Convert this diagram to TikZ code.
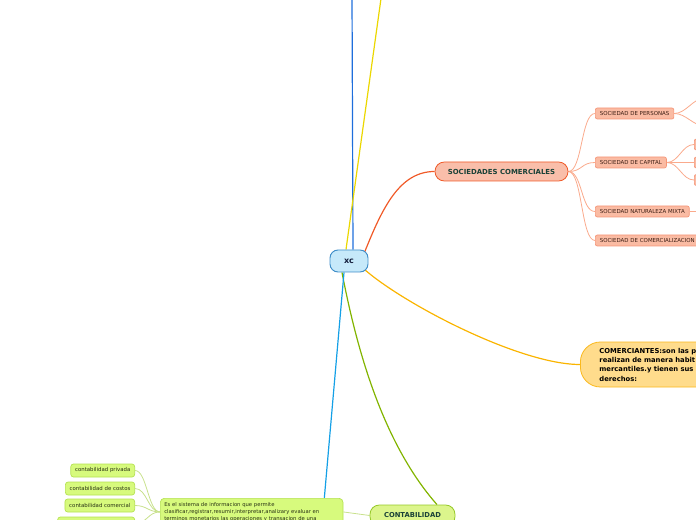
\documentclass[tikz,border=0pt]{standalone}
\usepackage{fontspec}
\setmainfont{DejaVu Sans}
\usetikzlibrary{backgrounds,calc}
\definecolor{xcfill}{RGB}{198,233,250}
\definecolor{xcdraw}{RGB}{60,140,200}
\definecolor{xctext}{RGB}{20,30,60}
\definecolor{blueline}{RGB}{30,110,220}
\definecolor{yelline}{RGB}{235,215,0}
\definecolor{redline}{RGB}{240,90,40}
\definecolor{socfill}{RGB}{249,190,170}
\definecolor{soctext}{RGB}{25,65,55}
\definecolor{subfill}{RGB}{250,187,163}
\definecolor{subdraw}{RGB}{245,150,120}
\definecolor{subline}{RGB}{250,170,140}
\definecolor{subtext}{RGB}{60,30,20}
\definecolor{comfill}{RGB}{255,220,140}
\definecolor{comdraw}{RGB}{250,185,30}
\definecolor{comline}{RGB}{250,180,0}
\definecolor{greenline}{RGB}{130,180,0}
\definecolor{contfill}{RGB}{220,245,140}
\definecolor{contdraw}{RGB}{150,200,40}
\definecolor{cyanline}{RGB}{20,160,230}
\definecolor{descfill}{RGB}{215,250,125}
\definecolor{descdraw}{RGB}{180,225,80}
\definecolor{leafline}{RGB}{200,225,140}
\definecolor{leaftext}{RGB}{40,50,20}
\newcommand{\fsz}[2]{\fontsize{#1}{#2}\selectfont}
\begin{document}
\begin{tikzpicture}[x=0.75pt,y=-0.75pt,
  rootbox/.style={draw=xcdraw, fill=xcfill, line width=0.7pt, rounded corners=6pt,
    minimum width=28.5pt, minimum height=16.5pt, inner sep=0pt,
    font=\fsz{6pt}{7pt}\bfseries, text=xctext},
  socbox/.style={draw=redline, fill=socfill, line width=0.6pt, rounded corners=7pt,
    minimum width=99.75pt, minimum height=14.25pt, inner sep=0pt,
    font=\fsz{5.2pt}{6pt}\bfseries, text=soctext},
  subbox/.style={draw=subdraw, fill=subfill, line width=0.5pt, rounded corners=1.5pt,
    minimum height=8.25pt, inner xsep=3.4pt, inner ysep=0pt,
    font=\fsz{4.1pt}{5pt}, text=subtext},
  combox/.style={draw=comdraw, fill=comfill, line width=0.6pt, rounded corners=15pt,
    minimum height=33.75pt, text width=150pt, inner xsep=14.25pt, inner ysep=0pt,
    align=left, font=\fsz{5.1pt}{7pt}\bfseries, text=black},
  contbox/.style={draw=contdraw, fill=contfill, line width=0.6pt, rounded corners=7pt,
    minimum width=63.75pt, minimum height=15.75pt, inner sep=0pt,
    font=\fsz{5.1pt}{6pt}\bfseries, text=soctext},
  descbox/.style={draw=descdraw, fill=descfill, line width=0.5pt, rounded corners=3pt,
    text width=131pt, inner xsep=3pt, inner ysep=3pt, align=left,
    font=\fsz{3.95pt}{5.3pt}, text=leaftext},
  leafbox/.style={draw=descdraw, fill=descfill, line width=0.5pt, rounded corners=2pt,
    minimum height=9.75pt, inner xsep=3.2pt, inner ysep=0pt,
    font=\fsz{4.05pt}{4.5pt}, text=leaftext},
  mainline/.style={line width=0.9pt},
  thinline/.style={line width=0.6pt}
]
\useasboundingbox (0,0) rectangle (696,520);
\clip (0,0) rectangle (696,520);

% nodes
\node[rootbox] (xc) at (349,261) {xc};
\node[socbox] (socc) at (501.5,171.5) {SOCIEDADES COMERCIALES};
\node[subbox, anchor=west] (sper) at (595,113.5) {SOCIEDAD DE PERSONAS};
\node[subbox, anchor=west] (scap) at (595,162.5) {SOCIEDAD DE CAPITAL};
\node[subbox, anchor=west] (smix) at (595,211.5) {SOCIEDAD NATURALEZA MIXTA};
\node[subbox, anchor=west, text width=110pt, align=left] (scom) at (595,240.5) {SOCIEDAD DE COMERCIALIZACION};
\node[subbox, anchor=west, minimum width=40pt] (cap1) at (694,144.5) {};
\node[subbox, anchor=west, minimum width=40pt] (cap2) at (694,162.5) {};
\node[subbox, anchor=west, minimum width=40pt] (cap3) at (694,180) {};
\node[combox, anchor=west] (comer) at (580,364.5) {COMERCIANTES:son las p\\realizan de manera habit\\mercantiles.y tienen sus\\derechos:};
\node[contbox] (cont) at (412.5,515.5) {CONTABILIDAD};
\node[descbox, anchor=north west] (desc) at (160,498) {Es el sistema de informacion que permite\\clasificar,registrar,resumir,interpretar,analizary evaluar en\\terminos monetarios las operaciones y transacion de una};
\node[leafbox, anchor=east] (l1) at (135,470.5) {contabilidad privada};
\node[leafbox, anchor=east] (l2) at (135,488.5) {contabilidad de costos};
\node[leafbox, anchor=east] (l3) at (135,505.5) {contabilidad comercial};
\node[leafbox, anchor=east, minimum width=57.75pt] (l4) at (135,523.5) {};

\coordinate (topblue) at (352,-5);
\coordinate (topyel) at (381.5,-5);
\coordinate (per1) at (705,98);
\coordinate (per2) at (705,126);
\coordinate (mixend) at (705,211.5);

\begin{scope}[on background layer]
  \draw[mainline, blueline] ($(xc.north)+(4,0)$) -- (topblue);
  \draw[mainline, yelline] ($(xc.north)+(-3,0)$) -- (topyel);
  \draw[mainline, redline] ($(xc.north east)+(-4,3)$) .. controls +(18,-45) and +(-35,0) .. (socc.west);
  \draw[mainline, comline] ($(xc.south east)+(-4,-3)$) .. controls +(40,35) and +(-60,0) .. (comer.west);
  \draw[mainline, greenline] ($(xc.south)+(-7,0)$) .. controls (355,340) and (380,440) .. ($(cont.north)+(24.5,0)$);
  \draw[mainline, cyanline] ($(xc.south)+(-5,0)$) -- ($(desc.north east)+(-19,0)$);
  \foreach \t in {sper,scap,smix,scom}
    \draw[thinline, subline] (socc.east) .. controls +(14,0) and +(-14,0) .. (\t.west);
  \draw[thinline, subline] (sper.east) .. controls +(12,0) and +(-12,0) .. (per1);
  \draw[thinline, subline] (sper.east) .. controls +(12,0) and +(-12,0) .. (per2);
  \foreach \t in {cap1,cap2,cap3}
    \draw[thinline, subline] (scap.east) .. controls +(12,0) and +(-12,0) .. (\t.west);
  \draw[thinline, subline] (smix.east) -- (mixend);
  \draw[thinline, leafline] (desc.east) -- (cont.west);
  \foreach \t in {l1,l2,l3,l4}
    \draw[thinline, leafline] (desc.west) .. controls +(-12,0) and +(12,0) .. (\t.east);
\end{scope}
\end{tikzpicture}
\end{document}
